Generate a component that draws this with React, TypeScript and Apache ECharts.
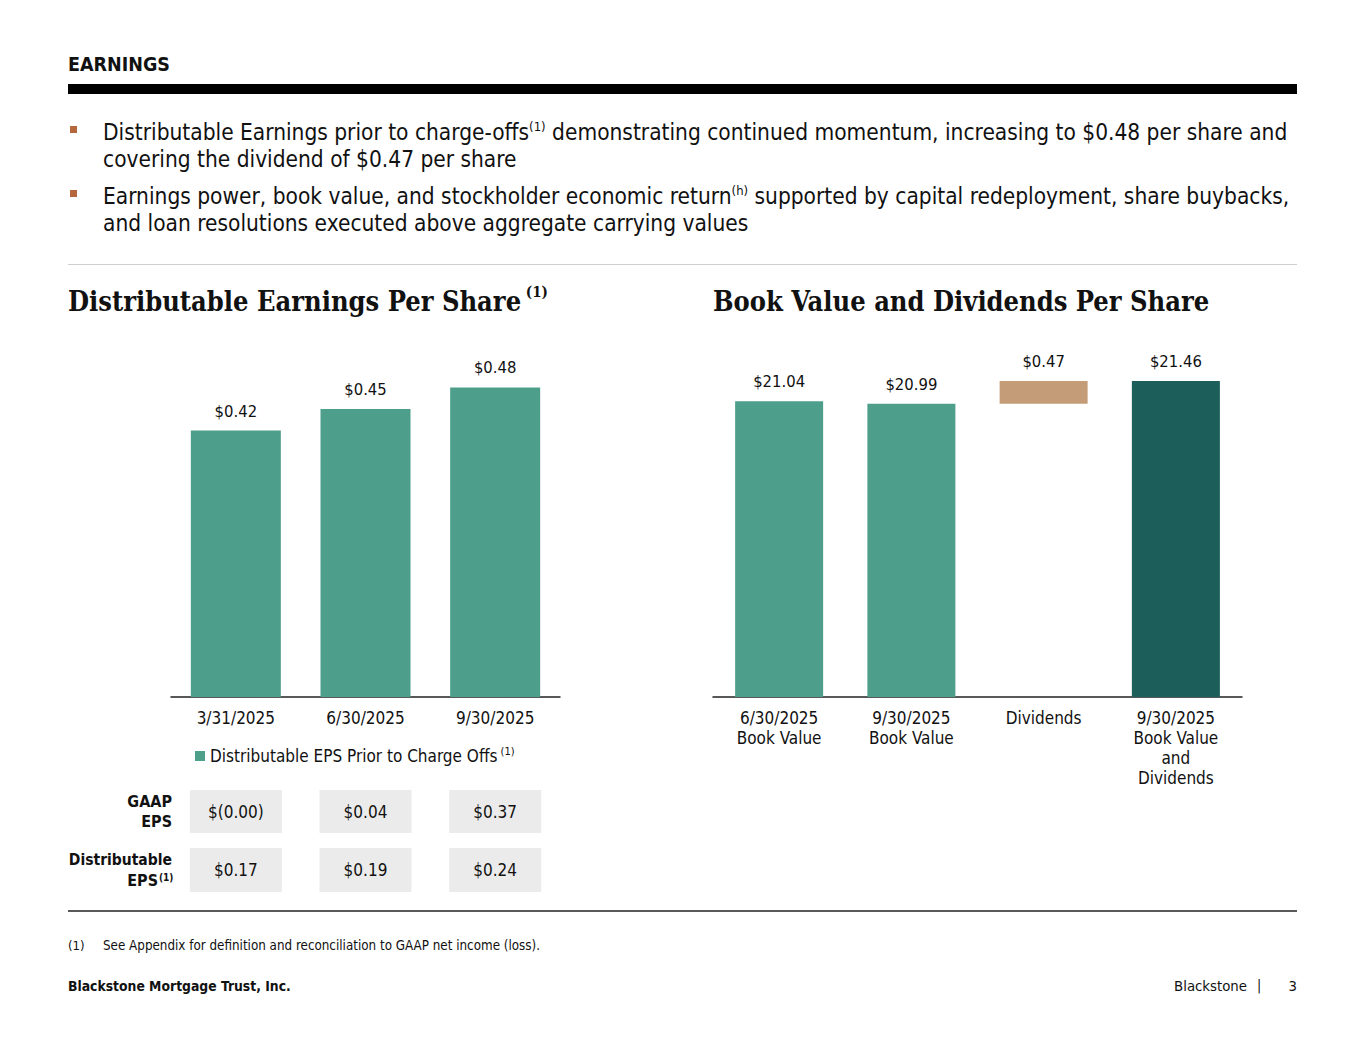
import React, { useEffect, useRef } from "react";
import * as echarts from "echarts";

const SANS = "'DejaVu Sans Condensed', 'DejaVu Sans', sans-serif";
const SERIF = "'DejaVu Serif Condensed', 'DejaVu Serif', serif";

// Left chart data
const deCategories = ["3/31/2025", "6/30/2025", "9/30/2025"];
const deValues = [0.42, 0.45, 0.48];
const deLegendName = "Distributable EPS Prior to Charge Offs";

// Table under left chart
const gaapEps = ["$(0.00)", "$0.04", "$0.37"];
const distEps = ["$0.17", "$0.19", "$0.24"];

// Right chart data (waterfall)
const bvCategories = [
  "6/30/2025\nBook Value",
  "9/30/2025\nBook Value",
  "Dividends",
  "9/30/2025\nBook Value\nand\nDividends",
];
const bvBase = [0, 0, 20.99, 0];
const bvValues = [21.04, 20.99, 0.47, 21.46];
const bvColors = ["#4d9e8a", "#4d9e8a", "#c49c78", "#1b5e5a"];

const TEAL = "#4d9e8a";
const TEXT = "#111111";

export default function App() {
  const ref = useRef<HTMLDivElement>(null);

  useEffect(() => {
    document.body.style.margin = "0";
    if (!ref.current) return;
    const chart = echarts.init(ref.current, undefined, { renderer: "svg" });

    const L = { left: 171, right: 560, bottom: 697 };
    const R = { left: 713, right: 1242, bottom: 697 };

    const catW = (L.right - L.left) / deCategories.length;
    const cellW = 92;
    const tableGraphics: any[] = [];
    const rows = [
      { vals: gaapEps, top: 790, h: 43 },
      { vals: distEps, top: 848, h: 44 },
    ];
    rows.forEach((r) => {
      r.vals.forEach((v, i) => {
        const cx = L.left + catW * (i + 0.5);
        tableGraphics.push({
          type: "rect",
          shape: { x: cx - cellW / 2, y: r.top, width: cellW, height: r.h },
          style: { fill: "#ebebeb" },
        });
        tableGraphics.push({
          type: "text",
          x: cx,
          y: r.top + r.h / 2,
          style: {
            text: v,
            fill: TEXT,
            font: `17px ${SANS}`,
            align: "center",
            verticalAlign: "middle",
          },
        });
      });
    });

    const bulletRich = {
      t: { fontSize: 22.5, lineHeight: 27, fontFamily: SANS, fill: TEXT, color: TEXT },
      s: { fontSize: 13, lineHeight: 27, fontFamily: SANS, verticalAlign: "top", fill: TEXT, color: TEXT, padding: [1, 0, 0, 0] },
    };

    const valueLabel = {
      show: true,
      position: "top",
      distance: 11,
      color: TEXT,
      fontSize: 16.5,
      fontFamily: SANS,
      formatter: (p: any) => "$" + p.value.toFixed(2),
    };

    const option: any = {
      animation: false,
      backgroundColor: "#ffffff",
      legend: {
        left: 190,
        top: 741,
        icon: "rect",
        itemWidth: 10,
        itemHeight: 10,
        itemGap: 5,
        data: [deLegendName],
        formatter: (n: string) => `{a|${n}}{s| (1)}`,
        textStyle: {
          rich: {
            a: { fontSize: 17, fontFamily: SANS, color: TEXT, lineHeight: 20 },
            s: { fontSize: 11, fontFamily: SANS, color: TEXT, verticalAlign: "top", lineHeight: 20 },
          },
        },
        selectedMode: false,
      },
      grid: [
        { left: L.left, width: L.right - L.left, top: 373, height: L.bottom - 373 },
        { left: R.left, width: R.right - R.left, top: 355, height: R.bottom - 355 },
      ],
      xAxis: [
        {
          type: "category",
          gridIndex: 0,
          data: deCategories,
          axisLine: { lineStyle: { color: "#222", width: 1.5 } },
          axisTick: { show: false },
          axisLabel: { color: TEXT, fontSize: 17, fontFamily: SANS, margin: 11, lineHeight: 20 },
        },
        {
          type: "category",
          gridIndex: 1,
          data: bvCategories,
          axisLine: { lineStyle: { color: "#222", width: 1.5 } },
          axisTick: { show: false },
          axisLabel: { color: TEXT, fontSize: 17, fontFamily: SANS, margin: 11, lineHeight: 20, interval: 0 },
        },
      ],
      yAxis: [
        { type: "value", gridIndex: 0, min: 0.05, max: 0.5, show: false, splitLine: { show: false } },
        { type: "value", gridIndex: 1, min: 14.9, max: 22, show: false, splitLine: { show: false } },
      ],
      series: [
        {
          name: deLegendName,
          type: "bar",
          xAxisIndex: 0,
          yAxisIndex: 0,
          data: deValues,
          barWidth: 90,
          itemStyle: { color: TEAL },
          label: valueLabel,
        },
        {
          name: "base",
          type: "bar",
          xAxisIndex: 1,
          yAxisIndex: 1,
          stack: "bv",
          data: bvBase,
          barWidth: 88,
          itemStyle: { color: "transparent" },
          silent: true,
        },
        {
          name: "Book Value",
          type: "bar",
          xAxisIndex: 1,
          yAxisIndex: 1,
          stack: "bv",
          barWidth: 88,
          data: bvValues.map((v, i) => ({ value: v, itemStyle: { color: bvColors[i] } })),
          label: valueLabel,
        },
      ],
      graphic: [
        {
          type: "text",
          x: 68,
          y: 64,
          style: {
            text: "EARNINGS",
            font: `bold 19.5px ${SANS}`,
            fill: TEXT,
            verticalAlign: "middle",
          },
        },
        { type: "rect", shape: { x: 68, y: 84, width: 1229, height: 10 }, style: { fill: "#000" } },
        { type: "rect", shape: { x: 70, y: 126, width: 7, height: 7 }, style: { fill: "#b4683c" } },
        { type: "rect", shape: { x: 70, y: 190, width: 7, height: 7 }, style: { fill: "#b4683c" } },
        {
          type: "text",
          x: 103,
          y: 118.5,
          style: {
            text:
              "{t|Distributable Earnings prior to charge-offs}{s|(1)}{t| demonstrating continued momentum, increasing to $0.48 per share and}\n{t|covering the dividend of $0.47 per share}",
            rich: bulletRich,
            verticalAlign: "top",
          },
        },
        {
          type: "text",
          x: 103,
          y: 182.5,
          style: {
            text:
              "{t|Earnings power, book value, and stockholder economic return}{s|(h)}{t| supported by capital redeployment, share buybacks,}\n{t|and loan resolutions executed above aggregate carrying values}",
            rich: bulletRich,
            verticalAlign: "top",
          },
        },
        { type: "line", shape: { x1: 68, y1: 264.5, x2: 1297, y2: 264.5 }, style: { stroke: "#cfcfcf", lineWidth: 1 } },
        {
          type: "text",
          x: 68,
          y: 301,
          style: {
            text: "{h|Distributable Earnings Per Share}{hs| (1)}",
            verticalAlign: "middle",
            rich: {
              h: { fontSize: 27, fontWeight: "bold", fontFamily: SERIF, fill: TEXT, lineHeight: 34 },
              hs: { fontSize: 15, fontWeight: "bold", fontFamily: SERIF, fill: TEXT, verticalAlign: "top", lineHeight: 34 },
            },
          },
        },
        {
          type: "text",
          x: 713,
          y: 301,
          style: {
            text: "Book Value and Dividends Per Share",
            font: `bold 27px ${SERIF}`,
            fill: TEXT,
            verticalAlign: "middle",
          },
        },
        {
          type: "text",
          x: 172,
          y: 801,
          style: { text: "GAAP", font: `bold 16px ${SANS}`, fill: TEXT, align: "right", verticalAlign: "middle" },
        },
        {
          type: "text",
          x: 172,
          y: 821,
          style: { text: "EPS", font: `bold 16px ${SANS}`, fill: TEXT, align: "right", verticalAlign: "middle" },
        },
        {
          type: "text",
          x: 172,
          y: 860,
          style: { text: "Distributable", font: `bold 15.5px ${SANS}`, fill: TEXT, align: "right", verticalAlign: "middle" },
        },
        {
          type: "text",
          x: 158,
          y: 880,
          style: { text: "EPS", font: `bold 16px ${SANS}`, fill: TEXT, align: "right", verticalAlign: "middle" },
        },
        {
          type: "text",
          x: 159,
          y: 877,
          style: { text: "(1)", font: `bold 10px ${SANS}`, fill: TEXT, align: "left", verticalAlign: "middle" },
        },
        ...tableGraphics,
        { type: "line", shape: { x1: 68, y1: 911, x2: 1297, y2: 911 }, style: { stroke: "#222", lineWidth: 1.5 } },
        {
          type: "text",
          x: 68,
          y: 945,
          style: { text: "(1)", font: `13px ${SANS}`, fill: TEXT, verticalAlign: "middle" },
        },
        {
          type: "text",
          x: 103,
          y: 945,
          style: {
            text: "See Appendix for definition and reconciliation to GAAP net income (loss).",
            font: `13.3px ${SANS}`,
            fill: TEXT,
            verticalAlign: "middle",
          },
        },
        {
          type: "text",
          x: 68,
          y: 986,
          style: { text: "Blackstone Mortgage Trust, Inc.", font: `bold 13.8px ${SANS}`, fill: TEXT, verticalAlign: "middle" },
        },
        {
          type: "text",
          x: 1247,
          y: 985,
          style: { text: "Blackstone", font: `14.8px ${SANS}`, fill: TEXT, align: "right", verticalAlign: "middle" },
        },
        {
          type: "text",
          x: 1259,
          y: 985,
          style: { text: "|", font: `14px ${SANS}`, fill: TEXT, align: "center", verticalAlign: "middle" },
        },
        {
          type: "text",
          x: 1297,
          y: 985,
          style: { text: "3", font: `14.8px ${SANS}`, fill: TEXT, align: "right", verticalAlign: "middle" },
        },
      ],
    };

    chart.setOption(option);
    return () => chart.dispose();
  }, []);

  return (
    <div
      ref={ref}
      style={{ position: "absolute", left: 0, top: 0, width: 1365, height: 1055, background: "#fff" }}
    />
  );
}
